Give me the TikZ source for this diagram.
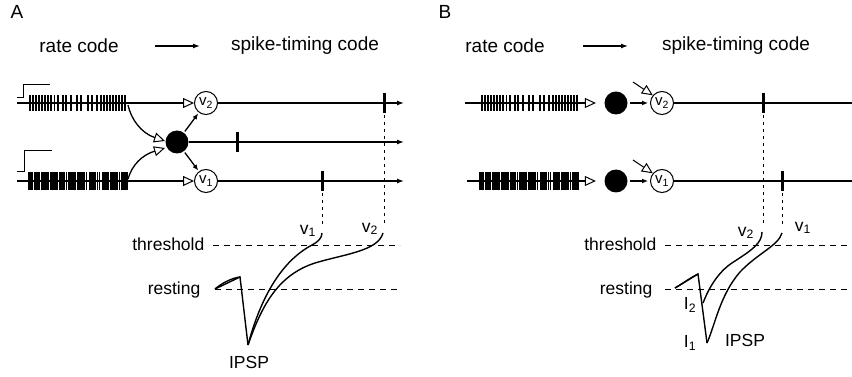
\documentclass[tikz,border=0pt]{standalone}
\usepackage{fontspec}
\setmainfont{Liberation Sans}
\usetikzlibrary{arrows.meta}
\newcommand\sparsetrain{0,3,6,9,12,15,18,21,24.5,28,33,36,41,47,51,58,62,67,71,74,77,80,83,86,89,92,95}
\newcommand\densetrain{0,2,3.5,5.5,7,9,10.5,12.5,14,16,18,19.5,21.5,23,25,27,28.5,30.5,32,34,35.5,37.5,39.5,41,43,45,46.5,48.5,50,52,54,55.5,57.5,61,63,65,66.5,68.5,70.5,74,76,78,79.5,81.5,83,85,87,88.5,90.5,92.5,94,96,98}
\begin{document}
\begin{tikzpicture}[x=1pt,y=-1pt,line width=1.3pt,
  lbl/.style={font=\fontsize{17.5}{20}\selectfont},
  head/.style={font=\fontsize{19}{22}\selectfont},
  neuron/.style={circle,draw,line width=1pt,minimum size=23pt,inner sep=0pt,font=\fontsize{15}{15}\selectfont},
  cell/.style={circle,fill,minimum size=23pt,inner sep=0pt},
  feed/.style={-{Triangle[open,length=11pt,width=10pt,line width=1pt]}},
  smallarrow/.style={-{Latex[length=6pt,width=5pt]}},
  axon/.style={-{Latex[length=7pt,width=5pt]}},
  spk/.style={line width=3pt},
  tick/.style={line width=1.5pt},
  thintick/.style={line width=1.1pt},
  thr/.style={line width=1pt,dash pattern=on 6pt off 5pt},
  vdrop/.style={line width=0.8pt,dash pattern=on 3pt off 4pt},
  vtrace/.style={line width=1.4pt}]
\tikzstyle{every node}+=[inner sep=0pt]
\useasboundingbox (0,0) rectangle (852,377);

\node [head] (titleA) at (17,12) {A};
\node [head] (rateA) at (79,46) {rate code};
\node [head] (timeA) at (305,46) {spike-timing code};
\draw [axon] (155,46) -- (200,46);

\node [neuron] (v2A) at (206,103) {v\textsubscript{2}};
\node [neuron] (v1A) at (206,181) {v\textsubscript{1}};
\node [cell] (dotA) at (177,142) {};
\coordinate (inA2) at (17,103);
\coordinate (inA1) at (17,181);
\coordinate (outA2) at (404,103);
\coordinate (outA0) at (404,142);
\coordinate (outA1) at (404,181);
\draw [feed] (inA2) -- (v2A);
\draw [feed] (inA1) -- (v1A);
\draw [axon] (v2A) -- (outA2);
\draw [axon] (dotA) -- (outA0);
\draw [axon] (v1A) -- (outA1);
\draw [smallarrow,shorten <=1pt,shorten >=1pt] (dotA) -- (v2A);
\draw [smallarrow,shorten <=1pt,shorten >=1pt] (dotA) -- (v1A);
\coordinate (trA2) at (128,105);
\coordinate (trA1) at (128,179);
\draw [feed] (trA2) .. controls (131,119) and (141,133) .. (165,141);
\draw [feed] (trA1) .. controls (132,165) and (142,155) .. (165,148);
\draw [line width=1pt] (17,98) -- (23,98) -- (23,85) -- (50,85);
\draw [line width=1pt] (17,172) -- (24,172) -- (24,151) -- (52,151);
\foreach \s in \sparsetrain \draw [tick] (30+\s,95) -- (30+\s,111);
\foreach \s in \densetrain \draw [thintick] (29+\s,172) -- (29+\s,190);
\draw [spk] (384,93) -- (384,113);
\draw [spk] (237,132) -- (237,152);
\draw [spk] (322,171) -- (322,191);

\node [lbl,anchor=base east] (thrA) at (205,250.5) {threshold};
\node [lbl,anchor=base east] (restlA) at (201,294.5) {resting};
\draw [thr] (213,245) -- (400,245);
\draw [thr] (215,289) -- (400,289);
\coordinate (restA) at (215,289);
\coordinate (peakA) at (240,277);
\coordinate (minA) at (248,345);
\coordinate (endA1) at (322,233);
\coordinate (endA2) at (383,233);
\draw [vtrace] (restA) .. controls (222,283) and (232,278) .. (peakA) -- (minA);
\draw [vtrace] (restA) -- (peakA);
\draw [vtrace] (minA) .. controls (260,300) and (280,262) .. (312,245) .. controls (318,242) and (322,238) .. (endA1);
\draw [vtrace] (minA) .. controls (262,305) and (278,275) .. (315,263) .. controls (345,254) and (378,251) .. (endA2);
\draw [vdrop] (322,193) -- (322,224);
\draw [vdrop] (384,115) -- (384,223);
\node [lbl] (lv1A) at (308,231) {v\textsubscript{1}};
\node [lbl] (lv2A) at (370,229) {v\textsubscript{2}};
\node [lbl] (ipspA) at (249,362) {IPSP};

\node [head] (titleB) at (445,12) {B};
\node [head] (rateB) at (505,46) {rate code};
\node [head] (timeB) at (736,46) {spike-timing code};
\draw [axon] (583,46) -- (628,46);

\node [cell] (dotB2) at (616,103) {};
\node [cell] (dotB1) at (616,181) {};
\node [neuron] (v2B) at (662,103) {v\textsubscript{2}};
\node [neuron] (v1B) at (662,181) {v\textsubscript{1}};
\coordinate (inB2) at (465,103);
\coordinate (inB1) at (467,181);
\coordinate (outB2) at (860,103);
\coordinate (outB1) at (860,181);
\coordinate (inhB2) at (633,82);
\coordinate (inhB1) at (633,160);
\draw [feed,shorten >=8pt] (inB2) -- (dotB2);
\draw [feed,shorten >=8pt] (inB1) -- (dotB1);
\draw [smallarrow,shorten <=2pt,shorten >=2pt] (dotB2) -- (v2B);
\draw [smallarrow,shorten <=2pt,shorten >=2pt] (dotB1) -- (v1B);
\draw [feed,line width=1pt] (inhB2) -- (v2B.140);
\draw [feed,line width=1pt] (inhB1) -- (v1B.140);
\draw (v2B) -- (outB2);
\draw (v1B) -- (outB1);
\foreach \s in \sparsetrain \draw [tick] (482+\s,95) -- (482+\s,111);
\foreach \s in \densetrain \draw [thintick] (480+\s,172) -- (480+\s,190);
\draw [spk] (763,93) -- (763,113);
\draw [spk] (782,171) -- (782,191);

\node [lbl,anchor=base east] (thrB) at (657,250.5) {threshold};
\node [lbl,anchor=base east] (restlB) at (653,294.5) {resting};
\draw [thr] (665,245) -- (852,245);
\draw [thr] (665,289) -- (852,289);
\coordinate (restB) at (675,288);
\coordinate (peakB) at (698,274);
\coordinate (iTwo) at (703,303);
\coordinate (iOne) at (707,343);
\coordinate (endB2) at (762,232);
\coordinate (endB1) at (782,233);
\draw [vtrace] (restB) .. controls (682,284) and (690,278) .. (peakB) -- (iOne);
\draw [vtrace] (restB) -- (peakB);
\draw [vtrace] (iTwo) .. controls (710,285) and (720,270) .. (735,261) .. controls (752,250) and (762,243) .. (endB2);
\draw [vtrace] (iOne) .. controls (715,325) and (720,295) .. (740,272) .. controls (758,253) and (778,246) .. (endB1);
\draw [vdrop] (763,115) -- (763,225);
\draw [vdrop] (782,193) -- (782,225);
\node [lbl] (lv2B) at (746,233) {v\textsubscript{2}};
\node [lbl] (lv1B) at (803,228) {v\textsubscript{1}};
\node [lbl] (lI2) at (690,305) {I\textsubscript{2}};
\node [lbl] (lI1) at (690,343) {I\textsubscript{1}};
\node [lbl] (ipspB) at (745,340) {IPSP};
\end{tikzpicture}
\end{document}
